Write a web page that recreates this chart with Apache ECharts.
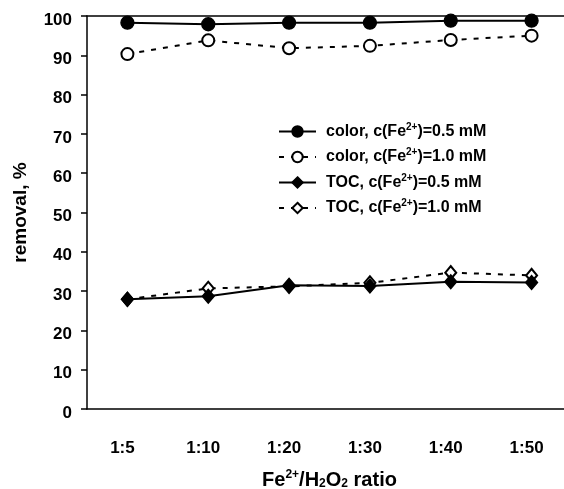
<!DOCTYPE html>
<html>
<head>
<meta charset="utf-8">
<script src="https://cdn.jsdelivr.net/npm/echarts@6/dist/echarts.min.js"></script>
<style>
	html, body { margin: 0; padding: 0; background: #fff; }
	#chart { width: 564px; height: 489px; }
</style>
</head>
<body>
<div id="chart"></div>
<script>
// Fe2+/H2O2 ratio categories
const categories = ['1:5', '1:10', '1:20', '1:30', '1:40', '1:50']

// removal, %
const colorLow = [98.3, 97.9, 98.3, 98.3, 98.8, 98.8]
const colorHigh = [90.3, 93.8, 91.8, 92.4, 93.9, 95.0]
const tocLow = [27.9, 28.7, 31.5, 31.3, 32.4, 32.2]
const tocHigh = [27.9, 30.7, 31.2, 32.1, 34.7, 34.0]

const seriesNames = [
	'color, c(Fe2+)=0.5 mM',
	'color, c(Fe2+)=1.0 mM',
	'TOC, c(Fe2+)=0.5 mM',
	'TOC, c(Fe2+)=1.0 mM'
]

const font = '"Liberation Sans", Arial, sans-serif'

const makeSeries = (name, vals, symbol, size, dashed) => ({
	name,
	type: 'line',
	data: vals,
	symbol,
	symbolSize: size,
	showAllSymbol: true,
	z: dashed ? 2 : 3,
	lineStyle: {
		color: '#000',
		width: 2,
		type: dashed ? [5, 7] : 'solid'
	},
	itemStyle: {
		color: '#000',
		borderColor: '#000',
		borderWidth: 1.3
	},
	emphasis: { disabled: true }
})

const chart = echarts.init(document.getElementById('chart'), null, { renderer: 'canvas' })

chart.setOption({
	animation: false,
	backgroundColor: '#fff',
	textStyle: { fontFamily: font, color: '#000' },
	// 图是裁过的，右边框在画布外
	grid: { left: 87, width: 485, top: 16, bottom: 80, outerBoundsMode: 'none', containLabel: false },
	legend: {
		orient: 'vertical',
		left: 273,
		top: 117,
		itemWidth: 37,
		itemHeight: 13,
		itemGap: 8,
		data: seriesNames,
		formatter: (name) => name.replace('2+', '{sup|2+}'),
		textStyle: {
			fontFamily: font,
			fontWeight: 'bold',
			fontSize: 16,
			color: '#000',
			padding: [0, 0, 0, 5],
			rich: {
				sup: {
					fontFamily: font,
					fontWeight: 'bold',
					fontSize: 10,
					verticalAlign: 'top',
					padding: [0, 0, 9, 0]
				}
			}
		}
	},
	xAxis: [
		{
			type: 'category',
			data: categories,
			boundaryGap: true,
			name: '{n|Fe}{sup|2+}{n|/H}{sub|2}{n|O}{sub|2}{n| ratio}',
			nameLocation: 'middle',
			nameGap: 60,
			nameTextStyle: {
				rich: {
					n: { fontFamily: font, fontWeight: 'bold', fontSize: 20, color: '#000' },
					sup: { fontFamily: font, fontWeight: 'bold', fontSize: 12, color: '#000', padding: [0, 0, 11, 0] },
					sub: { fontFamily: font, fontWeight: 'bold', fontSize: 12, color: '#000', padding: [6, 0, 0, 0] }
				}
			},
			splitLine: { show: false },
			axisTick: { show: false },
			axisLine: { onZero: false, lineStyle: { color: '#000', width: 1.5 } },
			axisLabel: {
				margin: 31,
				padding: [0, 10, 0, 0],
				fontFamily: font,
				fontWeight: 'bold',
				fontSize: 17,
				color: '#000'
			}
		},
		{
			type: 'category',
			data: categories,
			position: 'top',
			splitLine: { show: false },
			axisTick: { show: false },
			axisLabel: { show: false },
			axisLine: { onZero: false, lineStyle: { color: '#000', width: 1.5 } }
		}
	],
	yAxis: {
		type: 'value',
		min: 0,
		max: 100,
		interval: 10,
		name: 'removal, %',
		nameLocation: 'middle',
		nameGap: 57,
		nameTextStyle: { fontFamily: font, fontWeight: 'bold', fontSize: 19, color: '#000' },
		splitLine: { show: false },
		axisLine: { show: true, onZero: false, lineStyle: { color: '#000', width: 1.5 } },
		axisTick: { show: true, inside: false, length: 6, lineStyle: { color: '#000', width: 1.5 } },
		axisLabel: {
			margin: 15,
			verticalAlign: 'top',
			lineHeight: 8,
			fontFamily: font,
			fontWeight: 'bold',
			fontSize: 17,
			color: '#000'
		}
	},
	series: [
		makeSeries(seriesNames[0], colorLow, 'circle', 13, false),
		makeSeries(seriesNames[1], colorHigh, 'emptyCircle', 12, true),
		makeSeries(seriesNames[2], tocLow, 'diamond', [12, 14], false),
		makeSeries(seriesNames[3], tocHigh, 'emptyDiamond', [11, 13], true)
	]
})
</script>
</body>
</html>
